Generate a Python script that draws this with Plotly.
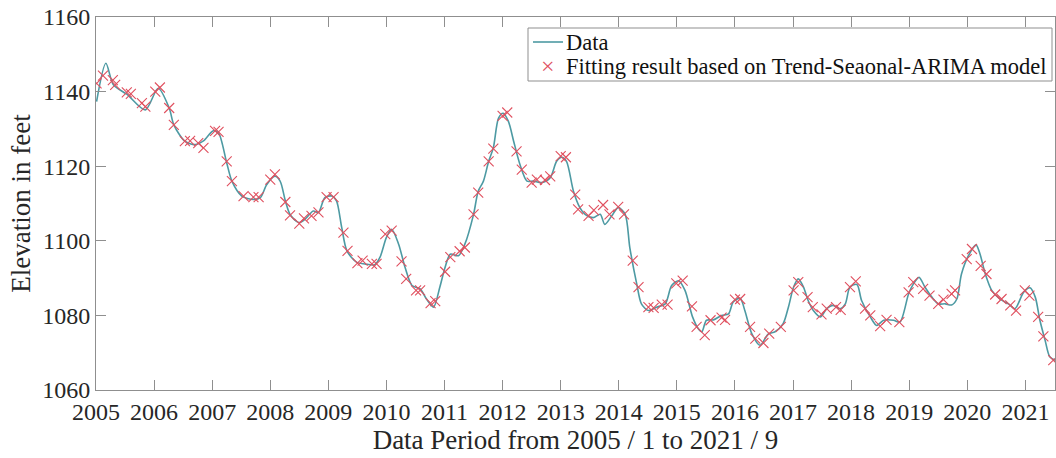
import plotly.graph_objects as go

data_year = [
    2005.01, 2005.17, 2005.30, 2005.53, 2005.85, 2006.07, 2006.26, 2006.34, 2006.53, 2006.71,
    2006.85, 2007.02, 2007.11, 2007.25, 2007.34, 2007.51, 2007.71, 2007.83, 2007.94, 2008.08,
    2008.17, 2008.26, 2008.34, 2008.49, 2008.60, 2008.74, 2008.83, 2008.94, 2009.06, 2009.14,
    2009.23, 2009.32, 2009.49, 2009.63, 2009.80, 2009.89, 2010.00, 2010.09, 2010.21, 2010.32,
    2010.44, 2010.58, 2010.69, 2010.81, 2010.92, 2011.01, 2011.10, 2011.24, 2011.35, 2011.50,
    2011.58, 2011.67, 2011.76, 2011.84, 2011.93, 2012.01, 2012.10, 2012.19, 2012.30, 2012.42,
    2012.53, 2012.67, 2012.82, 2012.93, 2013.02, 2013.10, 2013.22, 2013.33, 2013.42, 2013.56,
    2013.68, 2013.76, 2013.88, 2013.99, 2014.11, 2014.19, 2014.31, 2014.39, 2014.51, 2014.65,
    2014.80, 2014.91, 2015.03, 2015.14, 2015.27, 2015.37, 2015.43, 2015.51, 2015.63, 2015.77,
    2015.89, 2015.97, 2016.09, 2016.17, 2016.29, 2016.43, 2016.58, 2016.69, 2016.83, 2016.92,
    2017.01, 2017.09, 2017.18, 2017.26, 2017.35, 2017.47, 2017.58, 2017.69, 2017.81, 2017.90,
    2017.98, 2018.10, 2018.18, 2018.33, 2018.44, 2018.56, 2018.73, 2018.84, 2018.99, 2019.07,
    2019.17, 2019.27, 2019.39, 2019.50, 2019.62, 2019.73, 2019.82, 2019.90, 2020.02, 2020.15,
    2020.22, 2020.31, 2020.42, 2020.56, 2020.71, 2020.82, 2020.97, 2021.08, 2021.17, 2021.25,
    2021.34, 2021.42, 2021.51,
]
data_elev = [
    1137.3, 1147.6, 1141.8, 1139.3, 1135.1, 1140.9, 1135.6, 1131.1, 1126.7, 1125.8,
    1126.8, 1129.5, 1128.9, 1120.9, 1116.0, 1112.0, 1111.1, 1111.6, 1115.1, 1117.3,
    1116.0, 1110.7, 1107.1, 1104.9, 1105.8, 1108.0, 1107.6, 1111.6, 1112.0, 1110.7,
    1103.6, 1097.3, 1094.2, 1093.8, 1093.6, 1095.6, 1100.9, 1103.1, 1099.1, 1092.9,
    1088.0, 1087.1, 1084.4, 1082.2, 1087.6, 1092.9, 1096.4, 1096.0, 1099.1, 1107.1,
    1113.3, 1116.0, 1121.3, 1124.9, 1132.9, 1134.2, 1132.0, 1126.7, 1120.4, 1116.0,
    1116.0, 1115.6, 1116.9, 1121.3, 1122.4, 1121.3, 1113.3, 1108.9, 1107.1, 1106.2,
    1107.1, 1104.4, 1106.7, 1108.9, 1107.1, 1098.2, 1088.4, 1083.1, 1081.3, 1082.2,
    1083.1, 1088.0, 1089.3, 1086.7, 1079.6, 1076.4, 1075.6, 1078.7, 1078.8, 1080.0,
    1080.4, 1083.6, 1084.6, 1081.3, 1075.1, 1072.0, 1075.1, 1075.6, 1077.8, 1082.2,
    1087.6, 1089.8, 1087.6, 1084.0, 1081.3, 1079.6, 1081.8, 1082.7, 1081.8, 1083.1,
    1087.6, 1088.3, 1084.0, 1079.6, 1077.3, 1078.7, 1078.7, 1078.2, 1085.8, 1088.4,
    1090.2, 1087.6, 1084.9, 1083.1, 1083.1, 1082.8, 1084.4, 1091.1, 1096.0, 1098.9,
    1096.4, 1091.1, 1086.7, 1084.4, 1083.1, 1081.8, 1086.2, 1087.4, 1084.9, 1078.7,
    1073.3, 1068.9, 1068.0,
]

# Fitted values (Trend-Seasonal-ARIMA)
fit_year = [
    2005.01, 2005.12, 2005.29, 2005.33, 2005.53, 2005.60, 2005.79, 2005.85, 2006.02, 2006.10,
    2006.26, 2006.34, 2006.53, 2006.62, 2006.76, 2006.85, 2007.05, 2007.11, 2007.25, 2007.34,
    2007.54, 2007.71, 2007.80, 2008.00, 2008.08, 2008.26, 2008.34, 2008.50, 2008.58, 2008.71,
    2008.83, 2008.97, 2009.09, 2009.26, 2009.33, 2009.50, 2009.59, 2009.75, 2009.83, 2009.98,
    2010.09, 2010.26, 2010.34, 2010.51, 2010.58, 2010.76, 2010.84, 2011.01, 2011.10, 2011.26,
    2011.35, 2011.50, 2011.58, 2011.76, 2011.84, 2012.00, 2012.08, 2012.24, 2012.33, 2012.50,
    2012.59, 2012.73, 2012.82, 2013.00, 2013.09, 2013.25, 2013.30, 2013.48, 2013.57, 2013.73,
    2013.84, 2013.99, 2014.09, 2014.24, 2014.34, 2014.51, 2014.60, 2014.74, 2014.84, 2014.99,
    2015.10, 2015.26, 2015.34, 2015.48, 2015.58, 2015.77, 2015.83, 2016.00, 2016.09, 2016.26,
    2016.35, 2016.49, 2016.59, 2016.79, 2017.01, 2017.09, 2017.25, 2017.34, 2017.49, 2017.58,
    2017.74, 2017.82, 2017.98, 2018.08, 2018.24, 2018.33, 2018.50, 2018.61, 2018.83, 2018.99,
    2019.07, 2019.24, 2019.35, 2019.50, 2019.59, 2019.73, 2019.79, 2019.99, 2020.08, 2020.23,
    2020.33, 2020.48, 2020.59, 2020.74, 2020.84, 2020.99, 2021.07, 2021.22, 2021.31, 2021.48,
]
fit_elev = [
    1142.2, 1144.3, 1143.1, 1141.8, 1139.8, 1139.4, 1136.9, 1136.0, 1140.0, 1141.1,
    1135.6, 1131.1, 1126.7, 1126.8, 1126.2, 1124.9, 1129.5, 1129.2, 1121.3, 1116.0,
    1112.0, 1111.7, 1111.7, 1116.4, 1117.8, 1110.4, 1106.8, 1104.6, 1106.0, 1106.7,
    1107.6, 1111.7, 1111.7, 1102.2, 1097.3, 1094.0, 1094.7, 1093.8, 1093.8, 1101.8,
    1102.7, 1094.5, 1089.8, 1086.7, 1086.7, 1083.3, 1083.8, 1091.7, 1095.6, 1097.2,
    1098.2, 1107.1, 1112.9, 1121.3, 1124.7, 1133.5, 1134.4, 1124.0, 1119.1, 1115.6,
    1116.4, 1116.3, 1117.3, 1122.7, 1122.4, 1112.4, 1108.4, 1106.7, 1108.2, 1109.6,
    1107.1, 1109.1, 1107.1, 1094.7, 1087.6, 1082.2, 1082.0, 1082.9, 1082.9, 1088.6,
    1089.3, 1082.4, 1076.9, 1074.7, 1078.7, 1079.4, 1078.8, 1084.2, 1084.4, 1076.9,
    1073.8, 1072.6, 1075.1, 1076.9, 1086.7, 1088.9, 1084.9, 1082.2, 1080.3, 1081.8,
    1082.2, 1081.5, 1087.6, 1089.1, 1081.8, 1080.0, 1077.1, 1078.8, 1078.2, 1086.2,
    1088.9, 1087.1, 1085.3, 1083.1, 1084.2, 1085.8, 1086.7, 1095.1, 1097.8, 1093.3,
    1091.1, 1085.6, 1084.4, 1082.7, 1081.3, 1086.7, 1085.3, 1079.6, 1074.4, 1068.0,
]

series_names = ["Data", "Fitting result based on Trend-Seaonal-ARIMA model"]
year_ticks = list(range(2005, 2022))
elev_ticks = [1060, 1080, 1100, 1120, 1140, 1160]

FONT = '"Liberation Serif", "Times New Roman", Times, serif'
AXIS_COLOR = "#8f8f8f"
TEXT_COLOR = "#262626"
LINE_COLOR = "#4d9aa3"
MARK_COLOR = "#e0505f"

# plot-area geometry (pixels) used to place the hand-built legend box
W, H = 1056, 458
ML, MR, MT, MB = 96, 1, 17, 68
PW, PH = W - ML - MR, H - MT - MB


def px(x):
    return (x - ML) / PW


def py(y):
    return 1 - (y - MT) / PH


fig = go.Figure()
fig.add_trace(go.Scatter(
    x=data_year, y=data_elev, mode="lines", name=series_names[0],
    line=dict(color=LINE_COLOR, width=1.6, shape="spline", smoothing=0.8),
    showlegend=False,
))
fig.add_trace(go.Scatter(
    x=fit_year, y=fit_elev, mode="markers", name=series_names[1],
    marker=dict(symbol="x-thin", size=10, line=dict(color=MARK_COLOR, width=1.1),
                color=MARK_COLOR),
    showlegend=False,
))

# legend (built from shapes + annotations to match the compact MATLAB legend)
shapes = [
    dict(type="rect", xref="paper", yref="paper",
         x0=px(528), x1=px(1052), y0=py(81), y1=py(28),
         line=dict(color=AXIS_COLOR, width=1), fillcolor="white", layer="above"),
    dict(type="line", xref="paper", yref="paper",
         x0=px(533), x1=px(563), y0=py(42), y1=py(42),
         line=dict(color=LINE_COLOR, width=1.6), layer="above"),
]
annotations = [
    dict(xref="paper", yref="paper", x=px(548), y=py(66), text="×",
         showarrow=False, xanchor="center", yanchor="middle",
         font=dict(family=FONT, size=24, color=MARK_COLOR)),
    dict(xref="paper", yref="paper", x=px(564), y=py(42), text=series_names[0],
         showarrow=False, xanchor="left", yanchor="middle",
         font=dict(family=FONT, size=22.5, color="#111111")),
    dict(xref="paper", yref="paper", x=px(564), y=py(66), text=series_names[1],
         showarrow=False, xanchor="left", yanchor="middle",
         font=dict(family=FONT, size=22.5, color="#111111")),
]

fig.update_layout(
    width=W, height=H,
    margin=dict(l=ML, r=MR, t=MT, b=MB),
    paper_bgcolor="white", plot_bgcolor="white",
    font=dict(family=FONT, color=TEXT_COLOR, size=24),
    showlegend=False,
    shapes=shapes,
    annotations=annotations,
)
fig.update_xaxes(
    range=[2005, 2021.51], tickmode="array", tickvals=year_ticks,
    ticktext=[str(y) for y in year_ticks],
    ticks="inside", ticklen=10, tickcolor=AXIS_COLOR, tickwidth=1,
    showline=True, linecolor=AXIS_COLOR, linewidth=1, mirror="ticks",
    showgrid=False, zeroline=False,
    tickfont=dict(family=FONT, size=24, color=TEXT_COLOR),
    title=dict(text="Data Period from 2005 / 1 to 2021 / 9",
               font=dict(family=FONT, size=27, color=TEXT_COLOR), standoff=6),
)
fig.update_yaxes(
    range=[1060, 1160], tickmode="array", tickvals=elev_ticks,
    ticks="inside", ticklen=10, tickcolor=AXIS_COLOR, tickwidth=1,
    showline=True, linecolor=AXIS_COLOR, linewidth=1, mirror="ticks",
    showgrid=False, zeroline=False,
    tickfont=dict(family=FONT, size=24, color=TEXT_COLOR),
    title=dict(text="Elevation in feet",
               font=dict(family=FONT, size=27, color=TEXT_COLOR), standoff=3),
)

fig.write_html("out.html")
